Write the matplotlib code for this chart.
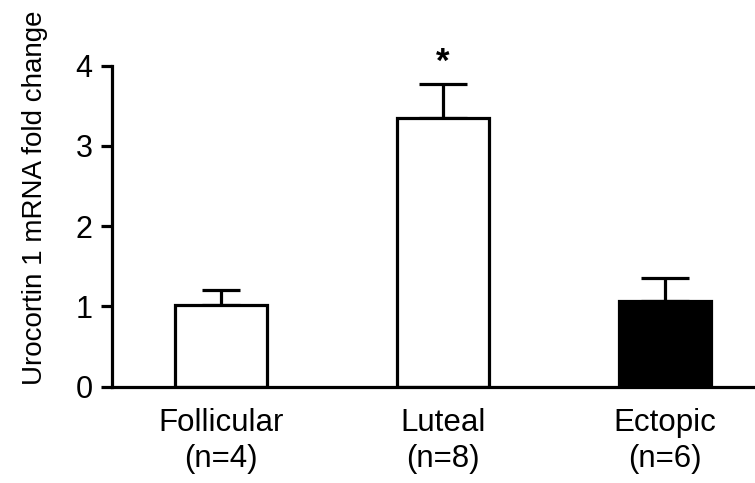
import matplotlib
matplotlib.use('Agg')
import matplotlib.pyplot as plt

plt.rcParams['font.family'] = ['Liberation Sans', 'DejaVu Sans']

# values
groups = ['Follicular\n(n=4)', 'Luteal\n(n=8)', 'Ectopic\n(n=6)']
means = [1.02, 3.35, 1.07]
sem = [0.18, 0.42, 0.29]
fills = ['white', 'white', 'black']
caps = [13.7, 17.3, 17.0]
y_ticks = [0, 1, 2, 3, 4]

fig = plt.figure(figsize=(7.55, 4.83), dpi=100)
ax = fig.add_axes([0.1483, 0.1994, 0.8517, 0.6646])

lw = 2.3
x = list(range(len(groups)))
ax.bar(x, means, width=0.415, color=fills, edgecolor='black', linewidth=lw, zorder=2)
for i in x:
    ax.errorbar(i, means[i], yerr=[[0], [sem[i]]], fmt='none', ecolor='black',
                elinewidth=lw, capsize=caps[i], capthick=lw, zorder=1)

# significance star over luteal
ax.annotate('*', xy=(1, means[1] + sem[1]), xytext=(0, 4), textcoords='offset points',
            ha='center', va='bottom', fontsize=25, fontweight='bold')

ax.set_xlim(-0.49, 2.405)
ax.set_ylim(0, 4)
ax.set_yticks(y_ticks)
ax.set_xticks(x)
ax.set_xticklabels(groups, fontsize=22.5, linespacing=1.3)
ax.tick_params(axis='y', labelsize=22, length=8, width=lw, pad=6)
ax.tick_params(axis='x', length=0, pad=15)
ax.set_ylabel('Urocortin 1 mRNA fold change', fontsize=20)
ax.yaxis.set_label_coords(-0.1, 0.59)

for s in ['top', 'right']:
    ax.spines[s].set_visible(False)
for s in ['left', 'bottom']:
    ax.spines[s].set_linewidth(lw)

fig.savefig('out.png', dpi=100)
